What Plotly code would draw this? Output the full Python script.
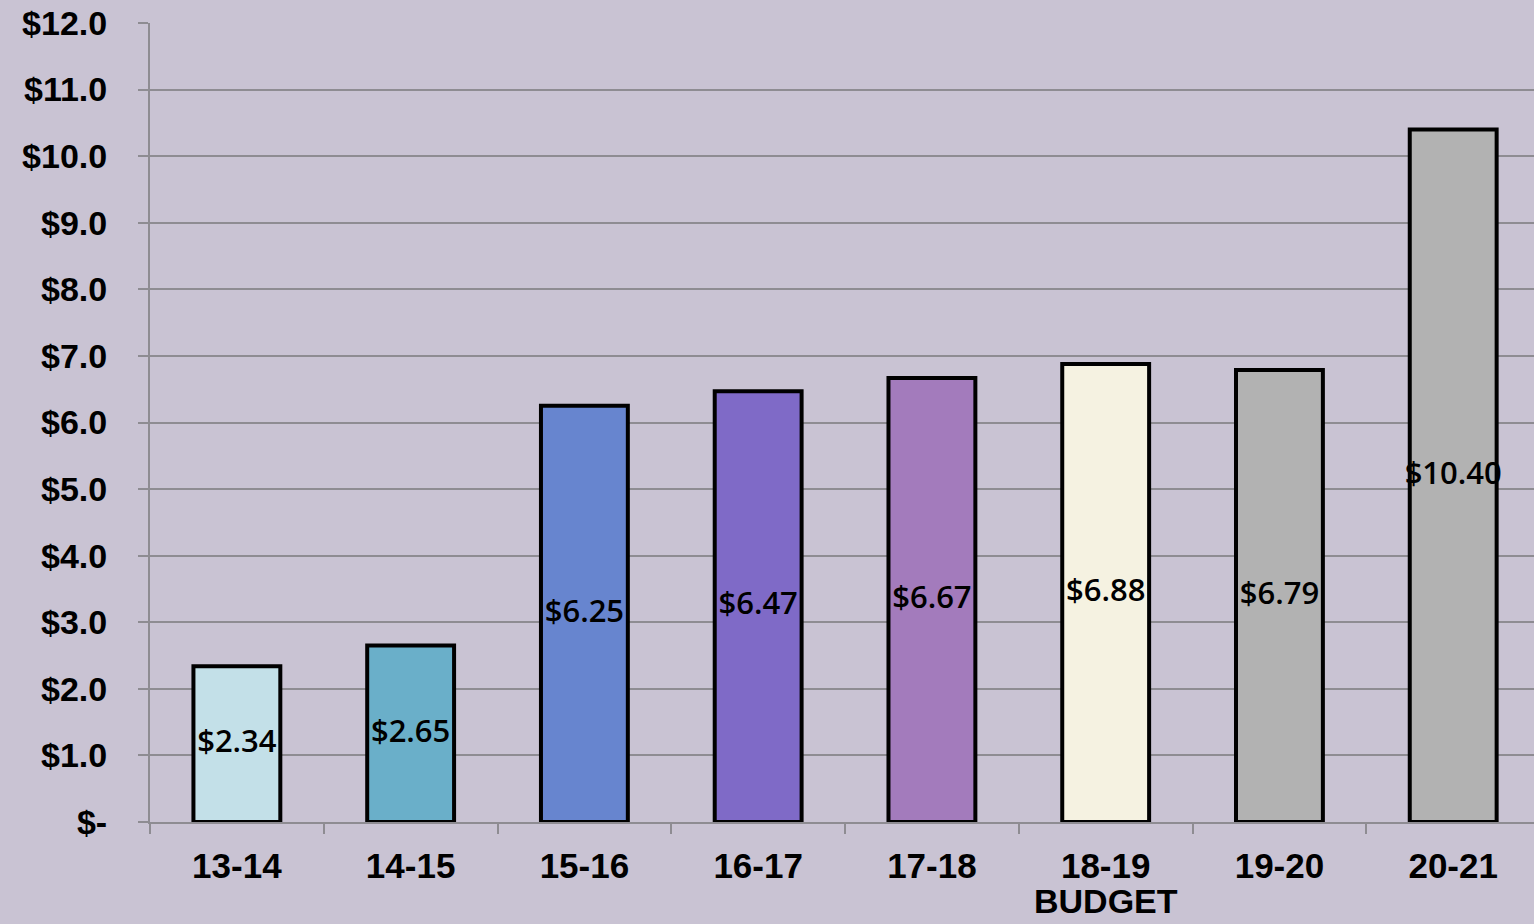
import plotly.graph_objects as go

# Fiscal years and amounts (in dollars)
years = ["13-14", "14-15", "15-16", "16-17", "17-18", "18-19", "19-20", "20-21"]
amounts = [2.34, 2.65, 6.25, 6.47, 6.67, 6.88, 6.79, 10.40]
bar_colors = ["#C3E0E8", "#6AAFC9", "#6785CF", "#7F6AC7", "#A37BBC", "#F5F2E1", "#B2B2B2", "#B2B2B2"]
budget_year = "18-19"

tick_vals = [0, 1, 2, 3, 4, 5, 6, 7, 8, 9, 10, 11, 12]
tick_text = ["$-", "$1.0", "$2.0", "$3.0", "$4.0", "$5.0", "$6.0", "$7.0", "$8.0",
             "$9.0", "$10.0", "$11.0", "$12.0"]

BG = "#C9C3D3"
GRID = "#8E8C92"
FONT = "Liberation Sans, Arial, sans-serif"
LABEL_FONT = "Open Sans, Liberation Sans, Arial, sans-serif"

fig = go.Figure()
fig.add_trace(go.Bar(
    x=years, y=amounts,
    marker=dict(color=bar_colors, line=dict(color="black", width=4)),
    width=0.5,
    hoverinfo="skip",
))
# Value labels centred on each bar
fig.add_trace(go.Scatter(
    x=years, y=[v / 2 for v in amounts],
    mode="text",
    text=[f"${v:.2f}" for v in amounts],
    textposition="middle center",
    textfont=dict(family=LABEL_FONT, size=31, color="black", weight=600),
    hoverinfo="skip",
))

# Second line under the budget year's tick label
fig.add_annotation(
    x=budget_year, xref="x", y=0, yref="paper",
    yshift=-79, yanchor="middle", showarrow=False,
    text="BUDGET",
    font=dict(family=FONT, size=34, color="black", weight="bold"),
)

fig.update_layout(
    width=1534, height=924,
    margin=dict(l=150, r=0, t=23, b=102),
    paper_bgcolor=BG, plot_bgcolor=BG,
    showlegend=False,
    font=dict(family=FONT, color="black"),
)
fig.update_yaxes(
    range=[0, 12], tickvals=tick_vals, ticktext=tick_text,
    automargin=False,
    showgrid=True, gridcolor=GRID, gridwidth=2,
    showline=True, linecolor=GRID, linewidth=2,
    ticks="outside", ticklen=10, tickcolor=GRID, tickwidth=2,
    ticklabelstandoff=24,
    tickfont=dict(family=FONT, size=34, color="black", weight="bold"),
    zeroline=False,
)
fig.update_xaxes(
    range=[-0.5, 7.465],
    automargin=False,
    showgrid=False,
    showline=True, linecolor=GRID, linewidth=2,
    ticks="outside", ticklen=10, tickcolor=GRID, tickwidth=2,
    tickson="boundaries",
    ticklabelstandoff=12,
    tickfont=dict(family=FONT, size=35, color="black", weight="bold"),
)

fig.write_html("out.html")
